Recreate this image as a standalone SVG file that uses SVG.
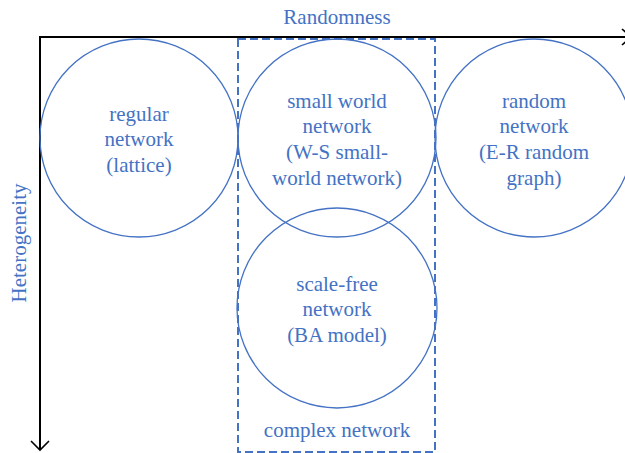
<svg xmlns="http://www.w3.org/2000/svg" width="625" height="453" viewBox="0 0 625 453">
  <style>
    .axis { stroke: #000; stroke-width: 2; fill: none; }
    .head { stroke: #000; stroke-width: 1.6; fill: none; }
    .node circle { fill: none; stroke: #4472C4; stroke-width: 1.3; }
    .lbl { font-family: "Liberation Serif", "Times New Roman", serif; font-size: 21px; fill: #4472C4; text-anchor: middle; }
    .group { fill: none; stroke: #4472C4; stroke-width: 2; stroke-dasharray: 8 4; }
  </style>
  <rect width="625" height="453" fill="#fff"/>

  <!-- axes -->
  <g id="connectors">
    <path class="axis" d="M40 37 H632 M40 36 V450"/>
    <path class="head" d="M31 441 L40 450 L49 441"/>
    <path class="head" d="M622 29 L631 37 L622 45"/>
  </g>
  <text class="lbl" x="337" y="24">Randomness</text>
  <text class="lbl" transform="translate(26 243) rotate(-90)">Heterogeneity</text>

  <!-- complex network grouping -->
  <g id="complex">
    <rect class="group" x="238" y="39" width="197" height="413"/>
    <text class="lbl" x="337" y="437">complex network</text>
  </g>

  <g id="regular" class="node">
    <circle cx="139" cy="138" r="99"/>
    <text class="lbl" x="139" y="121">regular</text>
    <text class="lbl" x="139" y="146">network</text>
    <text class="lbl" x="139" y="172">(lattice)</text>
  </g>

  <g id="smallworld" class="node">
    <circle cx="337" cy="138" r="99"/>
    <text class="lbl" x="337" y="108">small world</text>
    <text class="lbl" x="337" y="133">network</text>
    <text class="lbl" x="337" y="159">(W-S small-</text>
    <text class="lbl" x="337" y="185">world network)</text>
  </g>

  <g id="random" class="node">
    <circle cx="534" cy="138" r="99"/>
    <text class="lbl" x="534" y="108">random</text>
    <text class="lbl" x="534" y="133">network</text>
    <text class="lbl" x="534" y="159">(E-R random</text>
    <text class="lbl" x="534" y="185">graph)</text>
  </g>

  <g id="scalefree" class="node">
    <circle cx="337" cy="308" r="100"/>
    <text class="lbl" x="337" y="291">scale-free</text>
    <text class="lbl" x="337" y="316">network</text>
    <text class="lbl" x="337" y="342">(BA model)</text>
  </g>
</svg>
